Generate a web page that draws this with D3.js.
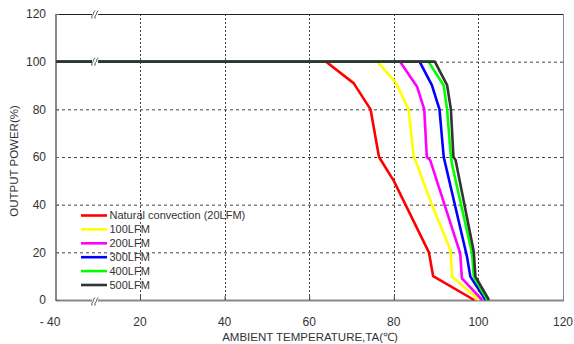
<!DOCTYPE html>
<html><head><meta charset="utf-8">
<script src="https://cdn.jsdelivr.net/npm/d3@7"></script>
<style>body{margin:0;background:#fff;} svg{display:block;font-family:"Liberation Sans",Arial,sans-serif;}</style>
</head><body>
<svg id="c" width="574" height="344"></svg>
<script>
const xTicks = [-40, 20, 40, 60, 80, 100, 120];
const xTickLabels = ["- 40", "20", "40", "60", "80", "100", "120"];
const yTicks = [0, 20, 40, 60, 80, 100, 120];
const seriesNames = ["Natural convection (20LFM)", "100LFM", "200LFM", "300LFM", "400LFM", "500LFM"];
const seriesColors = ["#ff0000", "#ffff00", "#ff00ff", "#0000ff", "#00ff00", "#333333"];
const red     = [[-40,100],[64,100],[70.5,91],[74.5,80],[76.5,60],[80,50],[88.3,20],[89.3,10],[99,0]];
const yellow  = [[-40,100],[76.1,100],[80.4,91.4],[83.5,80],[84.7,60],[85.1,58.7],[89,40],[93.4,21],[93.8,9.8],[100.2,0]];
const magenta = [[-40,100],[81.5,100],[85.5,89.5],[87.2,80],[87.8,60],[88.6,58.7],[95.7,19.6],[96.1,9.1],[100.9,0]];
const blue    = [[-40,100],[86.1,100],[89,90.2],[90.8,80],[91.8,60],[97.3,18.2],[98.1,9.8],[101.7,0]];
const green   = [[-40,100],[88.2,100],[91.8,90],[92.6,80],[93.5,60],[93.8,56.6],[98.5,19.6],[98.9,9.8],[102.1,0]];
const black   = [[-40,100],[89.7,100],[92.6,90.2],[93.5,80],[94.1,60],[94.6,58.7],[98.9,20.3],[99.3,9.8],[102.5,0]];
const seriesData = [red, yellow, magenta, blue, green, black];

const svg = d3.select("#c");
const L = 56, R = 563, T = 14, B = 300;
const x = d3.scaleLinear().domain([-40, 20, 120]).range([L, 140, R]);
const y = d3.scaleLinear().domain([0, 120]).range([B, T]);

// grid
const g = svg.append("g");
g.selectAll(".hg").data([20,40,60,80,100]).enter().append("line")
  .attr("x1", L).attr("x2", R).attr("y1", d=>y(d)+0.5).attr("y2", d=>y(d)+0.5)
  .attr("stroke", "#444").attr("stroke-width", 1).attr("stroke-dasharray", "3,3");
g.selectAll(".vg").data([20,40,60,80,100]).enter().append("line")
  .attr("x1", d=>Math.round(x(d))+0.5).attr("x2", d=>Math.round(x(d))+0.5).attr("y1", T).attr("y2", B)
  .attr("stroke", "#444").attr("stroke-width", 1).attr("stroke-dasharray", "2,2");

// axes frame
svg.append("line").attr("x1", L).attr("x2", R).attr("y1", T+0.5).attr("y2", T+0.5).attr("stroke", "#222").attr("stroke-width", 1);
svg.append("line").attr("x1", L).attr("x2", L).attr("y1", T).attr("y2", B+1).attr("stroke", "#888").attr("stroke-width", 2);
svg.append("line").attr("x1", R+0.5).attr("x2", R+0.5).attr("y1", T).attr("y2", B+1).attr("stroke", "#888").attr("stroke-width", 1);
svg.append("line").attr("x1", L).attr("x2", R+1).attr("y1", B+0.5).attr("y2", B+0.5).attr("stroke", "#888").attr("stroke-width", 2);

// y axis ticks (inward)
const yAxis = d3.axisRight(y).tickValues(yTicks).tickSize(3).tickFormat("");
svg.append("g").attr("transform", `translate(${L},0)`).call(yAxis)
  .call(s=>s.select(".domain").remove())
  .call(s=>s.selectAll(".tick line").attr("stroke","#666"));
svg.append("g").selectAll("text").data(yTicks).enter().append("text")
  .attr("x", 46).attr("y", d=>y(d)).attr("dy", "0.35em").attr("text-anchor", "end")
  .attr("font-size", 12).attr("fill", "#333").text(d=>d);

// x axis ticks (inward)
const xAxis = d3.axisTop(x).tickValues([20,40,60,80,100]).tickSize(4).tickFormat("");
svg.append("g").attr("transform", `translate(0,${B})`).call(xAxis)
  .call(s=>s.select(".domain").remove())
  .call(s=>s.selectAll(".tick line").attr("stroke","#444"));
svg.append("g").selectAll("text").data(xTicks).enter().append("text")
  .attr("x", (d,i)=> i===0 ? 50 : x(d)).attr("y", 322).attr("dy", "0.35em").attr("text-anchor", "middle")
  .attr("font-size", 12).attr("fill", "#333").text((d,i)=>xTickLabels[i]);

// axis titles
svg.append("text").attr("x", 310).attr("y", 337).attr("dy","0.35em").attr("text-anchor","middle")
  .attr("font-size", 11.5).attr("fill","#333").text("AMBIENT TEMPERATURE,TA(℃)");
svg.append("text").attr("transform","translate(14,161) rotate(-90)").attr("dy","0.35em").attr("text-anchor","middle")
  .attr("font-size", 11.5).attr("fill","#333").text("OUTPUT POWER(%)");

// series lines
const line = d3.line().x(d=>x(d[0])).y(d=>y(d[1]));
svg.append("g").selectAll("path").data(seriesData).enter().append("path")
  .attr("d", line).attr("fill","none").attr("stroke",(d,i)=>seriesColors[i])
  .attr("stroke-width", 2.6).attr("stroke-linejoin","round");

// break marks
function brk(cy){
  const bx = 95;
  const bg = svg.append("g").attr("transform", `translate(${bx},${cy})`);
  bg.append("rect").attr("x",-3).attr("y",-4).attr("width",6).attr("height",8).attr("fill","#fff");
  [-1.6, 1.6].forEach(o=>{
    bg.append("path").attr("d", `M${o-1.5},4 C${o-2.5},1 ${o+0.5},0 ${o},-1 S${o+1.5},-3 ${o+1.5},-4`)
      .attr("fill","none").attr("stroke","#333").attr("stroke-width",0.9);
  });
}
brk(y(120)+0.5); brk(y(100)); brk(B+1.5);

// legend
const lg = svg.append("g");
seriesNames.forEach((n,i)=>{
  const ly = 215.5 + i*13.9;
  lg.append("line").attr("x1",81).attr("x2",107).attr("y1",ly).attr("y2",ly)
    .attr("stroke",seriesColors[i]).attr("stroke-width",2.6);
  lg.append("text").attr("x",109.5).attr("y",ly).attr("dy","0.35em").attr("font-size",11)
    .attr("fill","#333").text(n);
});
</script>
</body></html>
